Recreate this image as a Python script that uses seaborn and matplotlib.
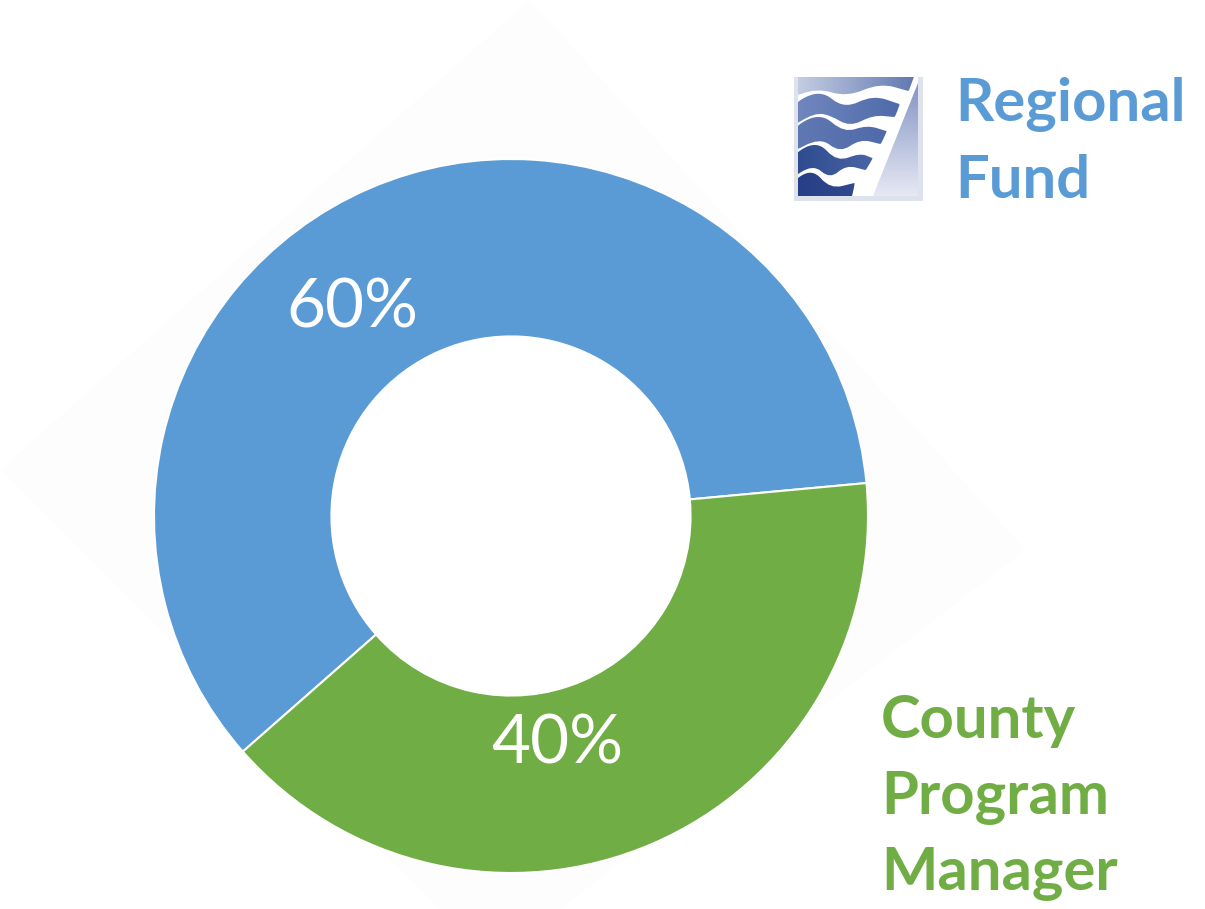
import numpy as np
import seaborn as sns
import matplotlib.pyplot as plt
from matplotlib.colors import LinearSegmentedColormap
from matplotlib.patches import Polygon, PathPatch, Circle
from matplotlib.path import Path

groups = ['Regional Fund', 'County Program Manager']
shares = [60, 40]
share_labels = ['60%', '40%']
group_titles = ['Regional\nFund', 'County\nProgram\nManager']

W, H = 1205, 909
BLUE = '#5b9bd5'
GREEN = '#70ad44'

sns.set_theme(style='white')
plt.rcParams['font.family'] = ['Lato', 'DejaVu Sans']
palette = sns.color_palette([BLUE, GREEN])

fig = plt.figure(figsize=(W / 100, H / 100), dpi=100)

# whole figure in pixel coords, y down
bg = fig.add_axes([0, 0, 1, 1])
bg.set_xlim(0, W)
bg.set_ylim(H, 0)
bg.axis('off')
# faint diamond behind the ring
bg.add_patch(Polygon([(0, 470), (530, 0), (1025, 550), (560, 909), (440, 909)],
                     closed=True, fc='#fdfdfd', ec='none'))

# donut
cx, cy, r = 511, 516, 357
bg.add_patch(Circle((cx, cy), 180, fc='white', ec='none'))
ax = fig.add_axes([(cx - r) / W, 1 - (cy + r) / H, 2 * r / W, 2 * r / H])
ax.pie(shares, colors=palette, startangle=5.3, radius=1,
       wedgeprops=dict(width=0.497, edgecolor='white', linewidth=1.5))
ax.set_xlim(-1, 1)
ax.set_ylim(-1, 1)

# text layer above the ring
top = fig.add_axes([0, 0, 1, 1])
top.set_xlim(0, W)
top.set_ylim(H, 0)
top.axis('off')
top.patch.set_alpha(0)
top.text(352, 309, share_labels[0], color='white', fontsize=48.5, ha='center', va='center')
top.text(557, 744, share_labels[1], color='white', fontsize=48.5, ha='center', va='center')
for y, line in zip([105, 181], group_titles[0].split('\n')):
    top.text(955, y, line, color=BLUE, fontsize=43, fontweight='bold', ha='left', va='center')
for y, line in zip([721, 798, 874], group_titles[1].split('\n')):
    top.text(881, y, line, color=GREEN, fontsize=43, fontweight='bold', ha='left', va='center')


def smooth_path(pts):
    # quadratic spline through the midpoints of a closed outline
    pts = np.array(pts, dtype=float)
    mids = (pts + np.roll(pts, -1, axis=0)) / 2
    verts = [mids[-1]]
    codes = [Path.MOVETO]
    for p, m in zip(pts, mids):
        verts += [p, m]
        codes += [Path.CURVE3, Path.CURVE3]
    return Path(verts, codes)


# logo, coordinates in px from its top left corner
logo = fig.add_axes([794 / W, 1 - 201 / H, 129 / W, 124 / H])
logo.axis('off')
logo.add_patch(Polygon([(0, 0), (129, 0), (129, 124), (0, 124)], fc='#dde2ec', ec='none'))
logo.add_patch(Polygon([(4, 0), (124, 0), (124, 119), (4, 119)], fc='white', ec='none'))


def shaded(clip, extent, left, right, vertical=False):
    cmap = LinearSegmentedColormap.from_list('band', [left, right])
    g = np.linspace(0, 1, 64)
    g = g[:, None] if vertical else g[None, :]
    im = logo.imshow(g, extent=extent, cmap=cmap, aspect='auto', origin='upper', zorder=3)
    im.set_clip_path(clip)


bands = [
    ([(-6, -12), (124, -12), (115, 14), (114, 14), (86, 6), (53, 20), (23, 11), (-6, 22)], '#c3cce2', '#5f77b0'),
    ([(-6, 30), (26, 12), (50, 32), (79, 18), (105, 27), (106, 27), (101, 40), (100, 40), (79, 38), (56, 50), (36, 38), (20, 36), (-6, 52)], '#7086bd', '#4a66a8'),
    ([(-6, 54), (26, 35), (50, 56), (73, 48), (92, 54), (93, 54), (87, 67), (86, 67), (66, 62), (46, 76), (26, 60), (-6, 78)], '#6078b2', '#4a65a6'),
    ([(-6, 81), (23, 63), (43, 85), (66, 76), (78, 81), (79, 81), (72, 93), (71, 93), (52, 88), (36, 102), (19, 87), (-6, 104)], '#2f4c90', '#5a74b0'),
    ([(-6, 108), (18, 91), (36, 112), (60, 106), (61, 106), (57, 124), (56, 124), (-6, 124)], '#263f86', '#3d5596'),
]
for pts, c0, c1 in bands:
    clip = PathPatch(smooth_path(pts), transform=logo.transData, fc='none', ec='none')
    logo.add_patch(clip)
    shaded(clip, (4, 124, 119, 0), c0, c1)

wedge = Polygon([(124, 6), (124, 119), (79, 119)], closed=True, transform=logo.transData, fc='none', ec='none')
logo.add_patch(wedge)
shaded(wedge, (70, 124, 119, 4), '#8293c4', '#e6e8f3', vertical=True)

logo.set_xlim(0, 129)
logo.set_ylim(124, 0)

fig.savefig('out.png', dpi=100, facecolor='white')
